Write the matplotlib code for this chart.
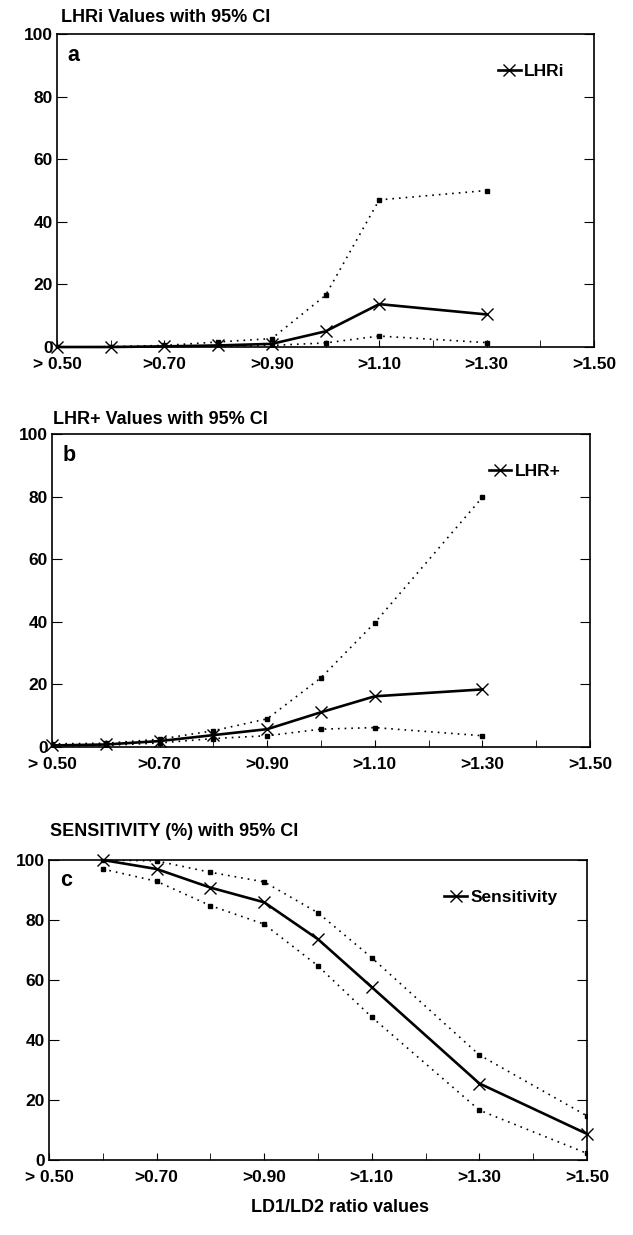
import matplotlib
matplotlib.use("Agg")
import matplotlib.pyplot as plt
from matplotlib.ticker import MultipleLocator

plt.rcParams["font.family"] = ["Liberation Sans", "DejaVu Sans"]
plt.rcParams["font.weight"] = "bold"

# LD1/LD2 ratio cut-off points
x_ab = [0.5, 0.6, 0.7, 0.8, 0.9, 1.0, 1.1, 1.3]
x_c = [0.6, 0.7, 0.8, 0.9, 1.0, 1.1, 1.3, 1.5]

# panel a: LHRi with 95% CI
lhri = [0.0, 0.0, 0.2, 0.5, 1.0, 5.0, 13.7, 10.4]
lhri_hi = [0.0, 0.1, 0.5, 1.6, 2.7, 16.5, 47.0, 50.0]
lhri_lo = [0.0, 0.0, 0.1, 0.3, 0.5, 1.3, 3.5, 1.4]

# panel b: LHR+ with 95% CI
lhrp = [0.5, 0.8, 1.9, 3.8, 5.7, 11.1, 16.2, 18.4]
lhrp_hi = [1.0, 1.2, 2.5, 5.2, 9.0, 22.1, 39.7, 79.8]
lhrp_lo = [0.3, 0.5, 1.3, 2.7, 3.6, 5.7, 6.2, 3.6]

# panel c: sensitivity (%) with 95% CI
sens = [100.0, 97.0, 90.8, 85.9, 73.6, 57.6, 25.5, 8.7]
sens_hi = [100.0, 99.7, 95.9, 92.7, 82.4, 67.4, 35.0, 14.7]
sens_lo = [97.0, 92.9, 84.8, 78.6, 64.7, 47.6, 16.6, 2.2]

tick_pos = [0.5, 0.7, 0.9, 1.1, 1.3, 1.5]
tick_labels = ["> 0.50", ">0.70", ">0.90", ">1.10", ">1.30", ">1.50"]

FS = 12.5
W, H = 633, 1235


def fig_box(left, right, top, bottom):
    return [left / W, 1 - bottom / H, (right - left) / W, (bottom - top) / H]


def draw_panel(ax, x, main, hi, lo, label, letter, title, title_xy):
    ax.plot(x, hi, linestyle=(0, (1, 3)), color="black", lw=1.2,
            marker="s", markersize=2.5)
    ax.plot(x, lo, linestyle=(0, (1, 3)), color="black", lw=1.2,
            marker="s", markersize=2.5)
    ax.plot(x, main, color="black", lw=1.9, marker="x", markersize=9,
            markeredgewidth=1.0, label=label, clip_on=False)

    ax.set_xlim(0.5, 1.5)
    ax.set_ylim(0, 100)
    ax.set_xticks(tick_pos)
    ax.set_xticklabels(tick_labels)
    ax.xaxis.set_minor_locator(MultipleLocator(0.1))
    ax.set_yticks([0, 20, 40, 60, 80, 100])
    ax.tick_params(axis="both", which="both", direction="in", labelsize=FS)
    ax.tick_params(axis="x", which="major", length=5, pad=7)
    ax.tick_params(axis="x", which="minor", length=5)
    ax.tick_params(axis="y", length=7, pad=3, right=True)
    for s in ax.spines.values():
        s.set_linewidth(1.2)

    ax.text(0.02, 0.965, letter, transform=ax.transAxes, fontsize=FS + 3,
            fontweight="bold", va="top", ha="left")
    ax.legend(loc="upper right", frameon=False, fontsize=FS,
              handlelength=1.3, handletextpad=0.2, borderaxespad=1.3)

    fig = ax.figure
    fig.text(title_xy[0] / W, 1 - title_xy[1] / H, title, fontsize=FS + 0.5,
             fontweight="bold", ha="left", va="center")


def main():
    fig = plt.figure(figsize=(W / 100, H / 100), dpi=100)

    ax_a = fig.add_axes(fig_box(57, 594, 34, 347))
    draw_panel(ax_a, x_ab, lhri, lhri_hi, lhri_lo, "LHRi", "a",
               "LHRi Values with 95% CI", (61, 17))

    ax_b = fig.add_axes(fig_box(52, 590, 434, 747))
    draw_panel(ax_b, x_ab, lhrp, lhrp_hi, lhrp_lo, "LHR+", "b",
               "LHR+ Values with 95% CI", (53, 419))

    ax_c = fig.add_axes(fig_box(49, 587, 860, 1160))
    draw_panel(ax_c, x_c, sens, sens_hi, sens_lo, "Sensitivity", "c",
               "SENSITIVITY (%) with 95% CI", (50, 832))

    fig.text(340 / W, 1 - 1208 / H, "LD1/LD2 ratio values", fontsize=FS + 0.5,
             fontweight="bold", ha="center", va="center")

    fig.savefig("out.png", dpi=100)
    plt.close(fig)


if __name__ == "__main__":
    main()
